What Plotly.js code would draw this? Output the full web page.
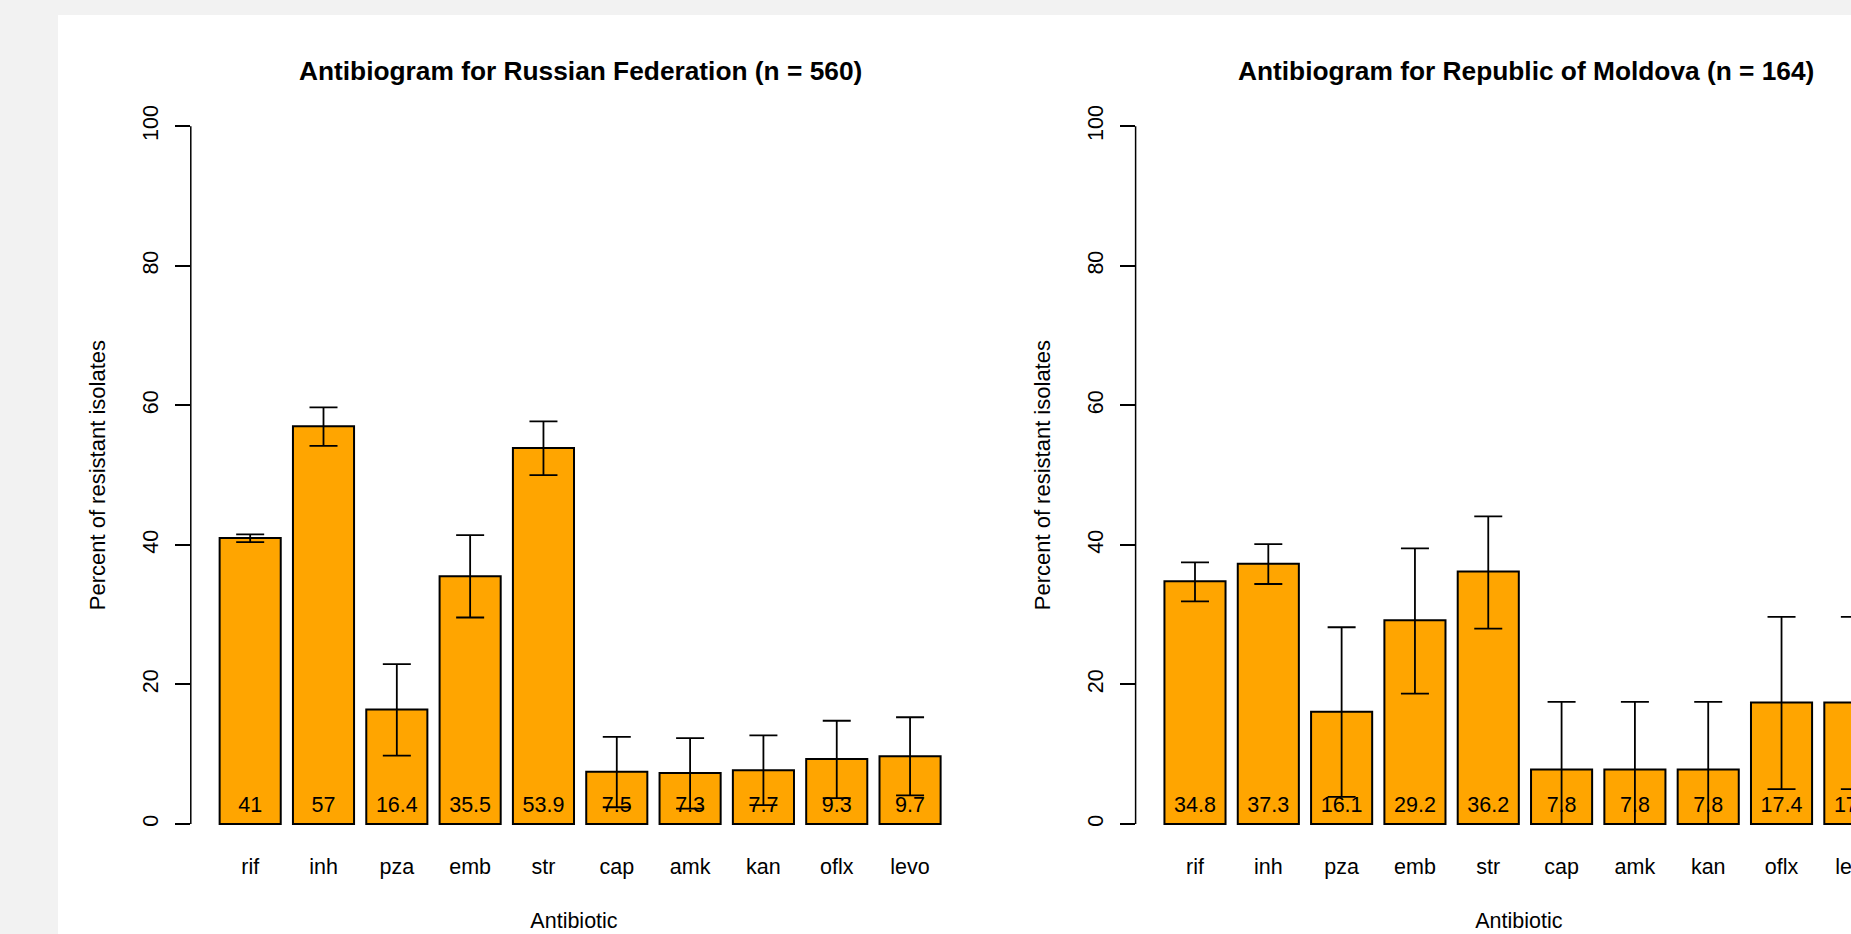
<!DOCTYPE html>
<html>
<head>
<meta charset="utf-8">
<script src="https://cdn.plot.ly/plotly-3.0.1.min.js"></script>
<style>
  html, body { margin: 0; padding: 0; background: #f2f2f2; overflow: hidden; width: 1851px; height: 934px; }
  #chart { position: absolute; left: 58px; top: 15px; width: 1890px; height: 1000px; background: #ffffff; }
</style>
</head>
<body>
<div id="chart"></div>
<script>
// ---- data ----
const antibiotics = ['rif', 'inh', 'pza', 'emb', 'str', 'cap', 'amk', 'kan', 'oflx', 'levo'];

const rusTitle = 'Antibiogram for Russian Federation (n = 560)';
const rusPct   = [41, 57, 16.4, 35.5, 53.9, 7.5, 7.3, 7.7, 9.3, 9.7];
const rusUpper = [41.5, 59.7, 22.9, 41.4, 57.7, 12.5, 12.3, 12.7, 14.8, 15.3];
const rusLower = [40.4, 54.2, 9.8, 29.6, 50.0, 2.4, 2.2, 2.7, 3.7, 4.1];

const mdaTitle = 'Antibiogram for Republic of Moldova (n = 164)';
const mdaPct   = [34.8, 37.3, 16.1, 29.2, 36.2, 7.8, 7.8, 7.8, 17.4, 17.4];
const mdaUpper = [37.5, 40.1, 28.2, 39.5, 44.1, 17.5, 17.5, 17.5, 29.7, 29.7];
const mdaLower = [31.9, 34.4, 3.9, 18.7, 28.0, 0, 0, 0, 5.0, 5.0];

const yTicks = [0, 20, 40, 60, 80, 100];
const xLabel = 'Antibiotic';
const yLabel = 'Percent of resistant isolates';

// ---- styling ----
const FONT = 'Liberation Sans, Arial, Helvetica, sans-serif';
const FS = 21.5;
const BAR_COLOR = '#FFA500';
const LABEL_Y = 2.55;

function barTrace(pct, upper, lower, xa, ya) {
  return {
    type: 'bar', x: antibiotics, y: pct, xaxis: xa, yaxis: ya,
    marker: { color: BAR_COLOR, line: { color: '#000000', width: 2 } },
    error_y: {
      type: 'data', symmetric: false,
      array: upper.map((u, i) => u - pct[i]),
      arrayminus: lower.map((l, i) => pct[i] - l),
      color: '#000000', thickness: 1.8, width: 14
    },
    hoverinfo: 'x+y', showlegend: false
  };
}
function textTrace(pct, xa, ya) {
  return {
    type: 'scatter', mode: 'text', x: antibiotics, y: pct.map(() => LABEL_Y),
    text: pct.map(v => String(v)), textposition: 'middle center',
    textfont: { family: FONT, size: FS, color: '#000000' },
    xaxis: xa, yaxis: ya, hoverinfo: 'skip', showlegend: false
  };
}

const data = [
  barTrace(rusPct, rusUpper, rusLower, 'x', 'y'),
  textTrace(rusPct, 'x', 'y'),
  barTrace(mdaPct, mdaUpper, mdaLower, 'x2', 'y2'),
  textTrace(mdaPct, 'x2', 'y2')
];

function xAxis(domain, anchor) {
  return {
    domain: domain, anchor: anchor, type: 'category',
    range: [-0.81, 9.643], fixedrange: true,
    showline: false, showgrid: false, zeroline: false, ticks: '',
    ticklabelstandoff: 0,
    tickfont: { family: FONT, size: FS, color: '#000000' },
    title: { text: xLabel, font: { family: FONT, size: FS, color: '#000000' }, standoff: 34 }
  };
}
function yAxis(anchor) {
  return {
    domain: [0.1631, 0.9166], anchor: anchor,
    range: [-4, 104], fixedrange: true,
    tickvals: yTicks, ticktext: yTicks.map(String), tickangle: -90,
    showline: false, showgrid: false, zeroline: false,
    ticks: 'outside', ticklen: 15, tickwidth: 1.5, tickcolor: '#000000',
    ticklabelstandoff: 8,
    tickfont: { family: FONT, size: FS, color: '#000000' },
    title: { text: yLabel, font: { family: FONT, size: 22, color: '#000000' }, standoff: 27 }
  };
}

const layout = {
  width: 1890, height: 1000,
  margin: { l: 0, r: 0, t: 0, b: 0 },
  paper_bgcolor: '#ffffff', plot_bgcolor: '#ffffff',
  bargap: 1 - 1 / 1.2,
  font: { family: FONT, size: FS, color: '#000000' },
  xaxis: xAxis([0.07026, 0.47577], 'y'),
  yaxis: yAxis('x'),
  xaxis2: xAxis([0.57016, 0.97566], 'y2'),
  yaxis2: yAxis('x2'),
  annotations: [
    { text: '<b>' + rusTitle + '</b>', xref: 'x domain', yref: 'paper', x: 0.5, y: 0.944, xshift: 7,
      xanchor: 'center', yanchor: 'middle', showarrow: false,
      font: { family: FONT, size: 26.3, color: '#000000' } },
    { text: '<b>' + mdaTitle + '</b>', xref: 'x2 domain', yref: 'paper', x: 0.5, y: 0.944, xshift: 7,
      xanchor: 'center', yanchor: 'middle', showarrow: false,
      font: { family: FONT, size: 26.3, color: '#000000' } }
  ],
  shapes: [
    { type: 'line', xref: 'x domain', yref: 'y', x0: 0, x1: 0, y0: yTicks[0], y1: yTicks[yTicks.length - 1],
      line: { color: '#000000', width: 1.5 } },
    { type: 'line', xref: 'x2 domain', yref: 'y2', x0: 0, x1: 0, y0: yTicks[0], y1: yTicks[yTicks.length - 1],
      line: { color: '#000000', width: 1.5 } }
  ]
};

Plotly.newPlot('chart', data, layout, { displayModeBar: false, staticPlot: false });
</script>
</body>
</html>
